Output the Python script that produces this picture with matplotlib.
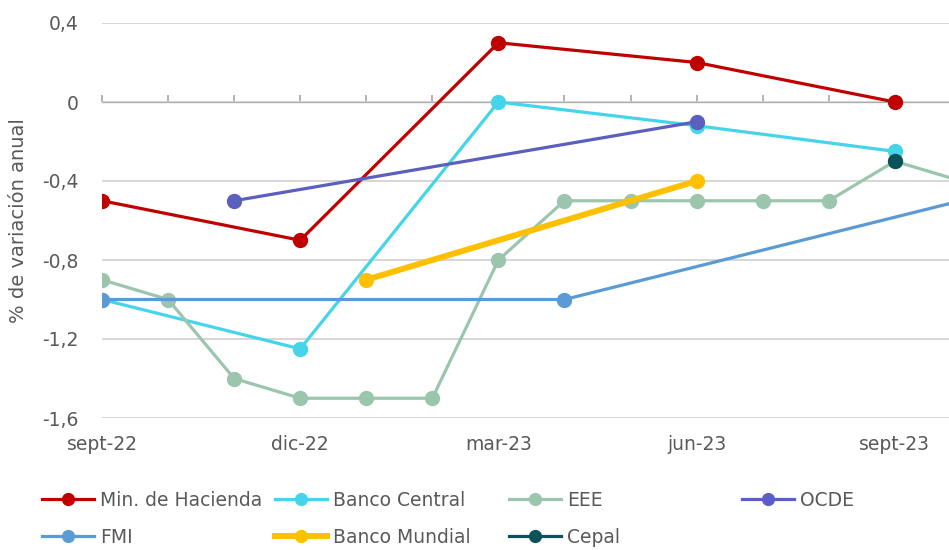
import matplotlib.pyplot as plt
from matplotlib.ticker import FixedLocator, FuncFormatter

# --- Data ---
months = ['sept-22', 'oct-22', 'nov-22', 'dic-22', 'ene-23', 'feb-23', 'mar-23',
          'abr-23', 'may-23', 'jun-23', 'jul-23', 'ago-23', 'sept-23', 'oct-23']
tick_months = ['sept-22', 'dic-22', 'mar-23', 'jun-23', 'sept-23']

hacienda_m = ['sept-22', 'dic-22', 'mar-23', 'jun-23', 'sept-23']
hacienda_v = [-0.5, -0.7, 0.3, 0.2, 0.0]

bcentral_m = ['sept-22', 'dic-22', 'mar-23', 'jun-23', 'sept-23']
bcentral_v = [-1.0, -1.25, 0.0, -0.12, -0.25]

eee_m = months
eee_v = [-0.9, -1.0, -1.4, -1.5, -1.5, -1.5, -0.8, -0.5, -0.5, -0.5, -0.5, -0.5, -0.3, -0.4]

ocde_m = ['nov-22', 'jun-23']
ocde_v = [-0.5, -0.1]

fmi_m = ['sept-22', 'abr-23', 'oct-23']
fmi_v = [-1.0, -1.0, -0.5]

bm_m = ['ene-23', 'jun-23']
bm_v = [-0.9, -0.4]

cepal_m = ['sept-23']
cepal_v = [-0.3]

series = [
    ('Min. de Hacienda', hacienda_m, hacienda_v, '#C00000', 2.3),
    ('Banco Central', bcentral_m, bcentral_v, '#45D4EA', 2.3),
    ('EEE', eee_m, eee_v, '#9CC5AE', 2.3),
    ('OCDE', ocde_m, ocde_v, '#5B5FBE', 2.3),
    ('FMI', fmi_m, fmi_v, '#5B9BD5', 2.3),
    ('Banco Mundial', bm_m, bm_v, '#FFC000', 4.3),
    ('Cepal', cepal_m, cepal_v, '#0B525A', 2.3),
]

grey = '#595959'
plt.rcParams['font.family'] = ['DejaVu Sans']

fig = plt.figure(figsize=(9.49, 5.5), dpi=100)
ax = fig.add_axes([102 / 949, 1 - 418 / 550, 1 - 102 / 949, (418 - 23) / 550])

handles = {}
for name, m, v, color, lw in series:
    x = [months.index(k) for k in m]
    line, = ax.plot(x, v, '-o', color=color, lw=lw, ms=10, label=name)
    handles[name] = line

ax.set_xlim(0, 12.82)
ax.set_ylim(-1.6, 0.4)

# y axis
ax.yaxis.set_major_locator(FixedLocator([-1.6, -1.2, -0.8, -0.4, 0, 0.4]))
ax.yaxis.set_major_formatter(FuncFormatter(
    lambda v, p: '0' if abs(v) < 1e-9 else f'{v:.1f}'.replace('.', ',')))
ax.grid(axis='y', color='#D0D0D0', lw=1.2)
ax.tick_params(axis='y', length=0, pad=17, labelsize=13.5, labelcolor=grey)
ax.set_ylabel('% de variación anual', fontsize=14, color=grey, labelpad=10)

# x labels at the bottom, no ticks
ax.set_xticks([months.index(k) for k in tick_months])
ax.set_xticklabels(tick_months)
ax.tick_params(axis='x', length=0, pad=12, labelsize=13.5, labelcolor=grey)
for s in ax.spines.values():
    s.set_visible(False)

# horizontal axis line at 0 with monthly ticks
sec = ax.secondary_xaxis(0.8)
sec.set_xticks(range(len(months)))
sec.set_xticklabels([])
sec.tick_params(axis='x', direction='out', length=5, width=1.2, color='#A6A6A6')
sec.spines['bottom'].set_color('#A6A6A6')
sec.spines['bottom'].set_linewidth(1.5)
sec.set_zorder(0.5)

# legend: one legend per column, two rows
columns = [['Min. de Hacienda', 'FMI'], ['Banco Central', 'Banco Mundial'],
           ['EEE', 'Cepal'], ['OCDE']]
col_x = [25, 258, 492, 725]
for names, cx in zip(columns, col_x):
    fig.legend([handles[n] for n in names], names, loc='upper left',
               bbox_to_anchor=(cx / 949, 1 - 474 / 550), frameon=False,
               fontsize=13.5, handlelength=2.8, handletextpad=0.3,
               labelspacing=0.95, labelcolor=grey, markerscale=0.85)

fig.savefig('out.png', dpi=100)
